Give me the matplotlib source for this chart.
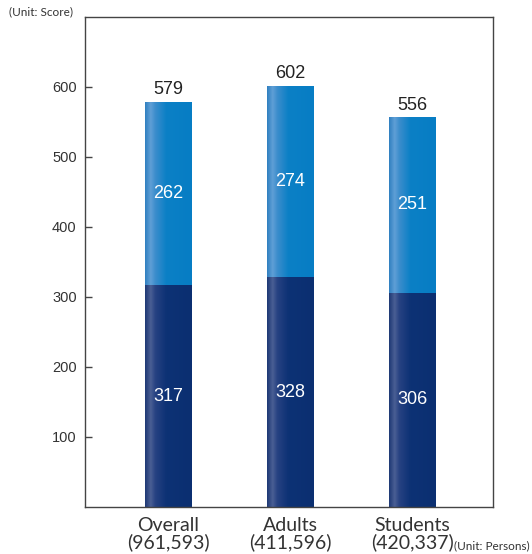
import numpy as np
import matplotlib.pyplot as plt
from matplotlib.colors import LinearSegmentedColormap

categories = ['Overall', 'Adults', 'Students']
persons = ['(961,593)', '(411,596)', '(420,337)']
lower_scores = [317, 328, 306]
upper_scores = [262, 274, 251]
totals = [579, 602, 556]
yticks = [100, 200, 300, 400, 500, 600]

plt.rcParams['font.family'] = ['Liberation Sans', 'DejaVu Sans']

fig = plt.figure(figsize=(5.32, 5.54), dpi=100)
ax = fig.add_axes([85 / 532, 1 - 507 / 554, 408 / 532, 490 / 554])

# horizontal shading across each bar: darker edge, light streak, then flat
upper_cmap = LinearSegmentedColormap.from_list('upper', [
    (0.0, '#2f7fc0'), (0.12, '#5f9fd6'), (0.22, '#3c8dcc'),
    (0.45, '#0b80c6'), (1.0, '#077dc4')])
lower_cmap = LinearSegmentedColormap.from_list('lower', [
    (0.0, '#1d3874'), (0.12, '#4a5f94'), (0.22, '#274282'),
    (0.45, '#0d3275'), (1.0, '#0b2f71')])
grad = np.linspace(0, 1, 256).reshape(1, -1)

x = np.arange(len(categories))
width = 0.377


def shade(bars, cmap):
    for b in bars:
        x0, y0 = b.get_x(), b.get_y()
        im = ax.imshow(grad, cmap=cmap, aspect='auto', zorder=2,
                       extent=[x0, x0 + b.get_width(), y0, y0 + b.get_height()])
        im.set_clip_path(b)
        b.set_alpha(0)


low = ax.bar(x, lower_scores, width, color='#0f3477', zorder=2)
up = ax.bar(x, upper_scores, width, bottom=lower_scores, color='#0b80c6', zorder=2)
shade(low, lower_cmap)
shade(up, upper_cmap)

for i in range(len(categories)):
    ax.text(x[i], lower_scores[i] / 2, str(lower_scores[i]), ha='center', va='center',
            color='white', fontsize=13, zorder=3)
    ax.text(x[i], lower_scores[i] + upper_scores[i] / 2, str(upper_scores[i]),
            ha='center', va='center', color='white', fontsize=13, zorder=3)
    ax.annotate(str(totals[i]), (x[i], totals[i]), xytext=(0, 2.5), textcoords='offset points',
                ha='center', va='bottom', fontsize=13, color='#222222')

ax.set_xlim(-0.68, 2.66)
ax.set_ylim(0, 700)
ax.set_yticks(yticks)
ax.set_yticklabels([str(t) for t in yticks], fontsize=10.5, color='#333333')
ax.tick_params(axis='y', direction='in', length=5, width=1, color='#444444', pad=6)
ax.set_xticks(x)
ax.set_xticklabels([f'{c}\n{p}' for c, p in zip(categories, persons)],
                   fontsize=14, color='#333333', linespacing=0.95,
                   family=['Lato', 'DejaVu Sans'])
ax.tick_params(axis='x', length=0, pad=7)
for s in ax.spines.values():
    s.set_color('#444444')
    s.set_linewidth(1)

fig.text(9 / 532, 1 - 12 / 554, '(Unit: Score)', fontsize=8.5, color='#333333',
         va='center', ha='left', family=['Lato', 'DejaVu Sans'])
fig.text(454 / 532, 1 - 546 / 554, '(Unit: Persons)', fontsize=8.5, color='#333333',
         va='center', ha='left', family=['Lato', 'DejaVu Sans'])

fig.savefig('out.png', dpi=100)
